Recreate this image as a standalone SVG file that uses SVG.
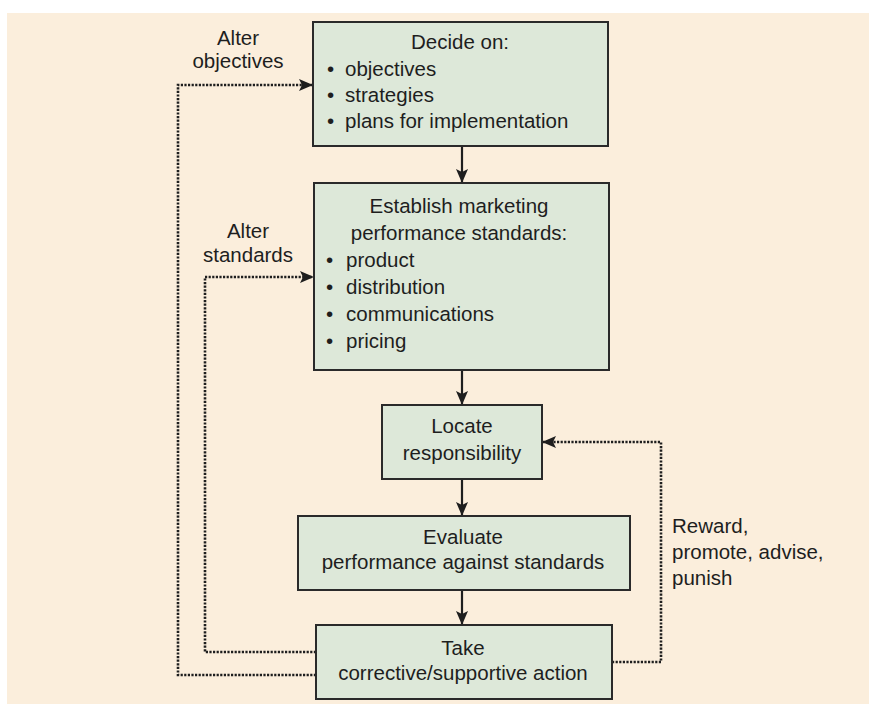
<svg xmlns="http://www.w3.org/2000/svg" width="869" height="704" viewBox="0 0 869 704">
<style>
.box{fill:#dde8d9;stroke:#2a2a2a;stroke-width:2}
.t{font-family:"Liberation Sans",Arial,sans-serif;font-size:20.5px;fill:#1e1e1e}
.c{text-anchor:middle}
.flow{stroke:#1e1e1e;stroke-width:2.2;fill:none}
.dot{stroke:#1e1e1e;stroke-width:2.6;fill:none;stroke-dasharray:2.2 1.4}
</style>
<defs>
<marker id="ah" viewBox="0 0 14 12" refX="13" refY="6" markerWidth="14" markerHeight="12" markerUnits="userSpaceOnUse" orient="auto">
<path d="M0,0 L14,6 L0,12 L3,6 Z" fill="#1e1e1e"/>
</marker>
</defs>
<rect x="0" y="0" width="869" height="704" fill="#ffffff"/>
<rect x="7" y="13" width="862" height="691" fill="#fbeedc"/>

<g id="connectors">
<line class="flow" x1="462" y1="146" x2="462" y2="182" marker-end="url(#ah)"/>
<line class="flow" x1="462" y1="370" x2="462" y2="404" marker-end="url(#ah)"/>
<line class="flow" x1="462" y1="479" x2="462" y2="515" marker-end="url(#ah)"/>
<line class="flow" x1="462" y1="590" x2="462" y2="624" marker-end="url(#ah)"/>
<polyline class="dot" points="316,675 178,675 178,85 312,85" marker-end="url(#ah)"/>
<polyline class="dot" points="316,652 205,652 205,277 313,277" marker-end="url(#ah)"/>
<polyline class="dot" points="612,662 661,662 661,442 543,442" marker-end="url(#ah)"/>
</g>

<g id="label-alter-objectives">
<text class="t c" x="238" y="45">Alter</text>
<text class="t c" x="238" y="68">objectives</text>
</g>
<g id="label-alter-standards">
<text class="t c" x="248" y="238">Alter</text>
<text class="t c" x="248" y="262">standards</text>
</g>
<g id="label-reward">
<text class="t" x="672" y="533">Reward,</text>
<text class="t" x="672" y="559">promote, advise,</text>
<text class="t" x="672" y="585">punish</text>
</g>

<g id="node-decide">
<rect class="box" x="313" y="22" width="295" height="124"/>
<text class="t c" x="460" y="49">Decide on:</text>
<text class="t" x="327" y="76">•</text><text class="t" x="345" y="76">objectives</text>
<text class="t" x="327" y="102">•</text><text class="t" x="345" y="102">strategies</text>
<text class="t" x="327" y="128">•</text><text class="t" x="345" y="128">plans for implementation</text>
</g>

<g id="node-standards">
<rect class="box" x="314" y="183" width="295" height="187"/>
<text class="t c" x="459" y="213">Establish marketing</text>
<text class="t c" x="459" y="240">performance standards:</text>
<text class="t" x="326" y="267">•</text><text class="t" x="346" y="267">product</text>
<text class="t" x="326" y="294">•</text><text class="t" x="346" y="294">distribution</text>
<text class="t" x="326" y="321">•</text><text class="t" x="346" y="321">communications</text>
<text class="t" x="326" y="348">•</text><text class="t" x="346" y="348">pricing</text>
</g>

<g id="node-locate">
<rect class="box" x="382" y="405" width="160" height="74"/>
<text class="t c" x="462" y="433">Locate</text>
<text class="t c" x="462" y="460">responsibility</text>
</g>

<g id="node-evaluate">
<rect class="box" x="298" y="516" width="332" height="74"/>
<text class="t c" x="463" y="544">Evaluate</text>
<text class="t c" x="463" y="569">performance against standards</text>
</g>

<g id="node-take">
<rect class="box" x="316" y="625" width="296" height="74"/>
<text class="t c" x="463" y="655">Take</text>
<text class="t c" x="463" y="680">corrective/supportive action</text>
</g>
</svg>
